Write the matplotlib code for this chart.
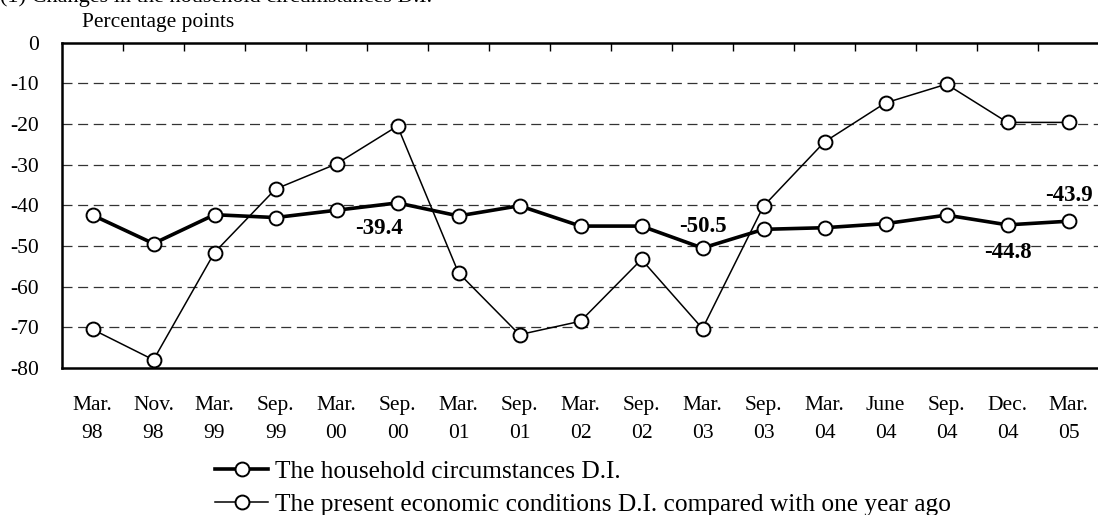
import matplotlib
matplotlib.use("Agg")
import matplotlib.pyplot as plt
from matplotlib.ticker import FixedLocator

plt.rcParams["font.family"] = ["Liberation Serif", "DejaVu Serif"]
plt.rcParams["axes.unicode_minus"] = False

months = ["Mar.", "Nov.", "Mar.", "Sep.", "Mar.", "Sep.", "Mar.", "Sep.", "Mar.",
          "Sep.", "Mar.", "Sep.", "Mar.", "June", "Sep.", "Dec.", "Mar."]
years = ["98", "98", "99", "99", "00", "00", "01", "01", "02",
         "02", "03", "03", "04", "04", "04", "04", "05"]

household = [-42.4, -49.4, -42.3, -43.0, -41.2, -39.4, -42.6, -40.1, -45.1,
             -45.1, -50.5, -45.9, -45.5, -44.5, -42.4, -44.8, -43.9]
economic = [-70.5, -78.0, -51.6, -36.0, -29.8, -20.5, -56.6, -71.8, -68.5,
            -53.3, -70.3, -40.2, -24.4, -14.8, -10.2, -19.6, -19.6]

# (index, text, y position of label)
labels = [(4.7, "-39.4", -45.6), (10.0, "-50.5", -45.1),
          (15.0, "-44.8", -51.7), (16.0, "-43.9", -37.5)]

W, H = 1098, 515
fig = plt.figure(figsize=(W / 100, H / 100), dpi=100)
left, right, top, bottom = 62, 1099, 42.7, 368
ax = fig.add_axes([left / W, 1 - bottom / H, (right - left) / W, (bottom - top) / H])

x = list(range(len(household)))
ax.plot(x, household, color="black", lw=2.6, marker="o", ms=10,
        mfc="white", mec="black", mew=1.4, zorder=4,
        label="The household circumstances D.I.")
ax.plot(x, economic, color="black", lw=1.1, marker="o", ms=10,
        mfc="white", mec="black", mew=1.4, zorder=3,
        label="The present economic conditions D.I. compared with one year ago")

for xi, txt, yi in labels:
    ax.text(xi, yi, txt, ha="center", va="center", fontsize=16.5,
            fontweight="bold", zorder=5)

ax.set_xlim(-0.5, len(x) - 0.5)
ax.set_ylim(-80, 0)
ax.set_yticks(range(0, -90, -10))
ax.set_yticklabels([str(v) for v in range(0, -90, -10)], fontsize=15.5)
for v in range(-10, -80, -10):
    ax.axhline(v, color="#333333", lw=0.9, ls=(0, (8, 4.5)), zorder=1)

ax.set_xticks(x)
ax.set_xticklabels([f"{m}\n{y}" for m, y in zip(months, years)],
                   fontsize=15.5, linespacing=1.65)
ax.xaxis.set_minor_locator(FixedLocator([i + 0.5 for i in x[:-1]]))
ax.tick_params(axis="x", which="major", length=0, pad=20)
ax.tick_params(axis="x", which="minor", top=True, bottom=False,
               direction="in", length=6, width=1)
ax.tick_params(axis="y", length=0, pad=16.5)

for side in ("left", "top", "bottom"):
    ax.spines[side].set_linewidth(1.8)
ax.spines["right"].set_visible(False)

fig.text(82 / W, 1 - 27 / H, "Percentage points", fontsize=15.5, va="baseline")
fig.text(0.0, 1 - 2 / H, "(1) Changes in the household circumstances D.I.",
         fontsize=16, va="baseline")

fig.legend(loc="upper left", bbox_to_anchor=(215 / W, 1 - 460 / H),
           frameon=False, fontsize=18.3, handlelength=2.1, handletextpad=0.25,
           labelspacing=0.4, borderaxespad=0, borderpad=0)

fig.savefig("out.png", dpi=100)
